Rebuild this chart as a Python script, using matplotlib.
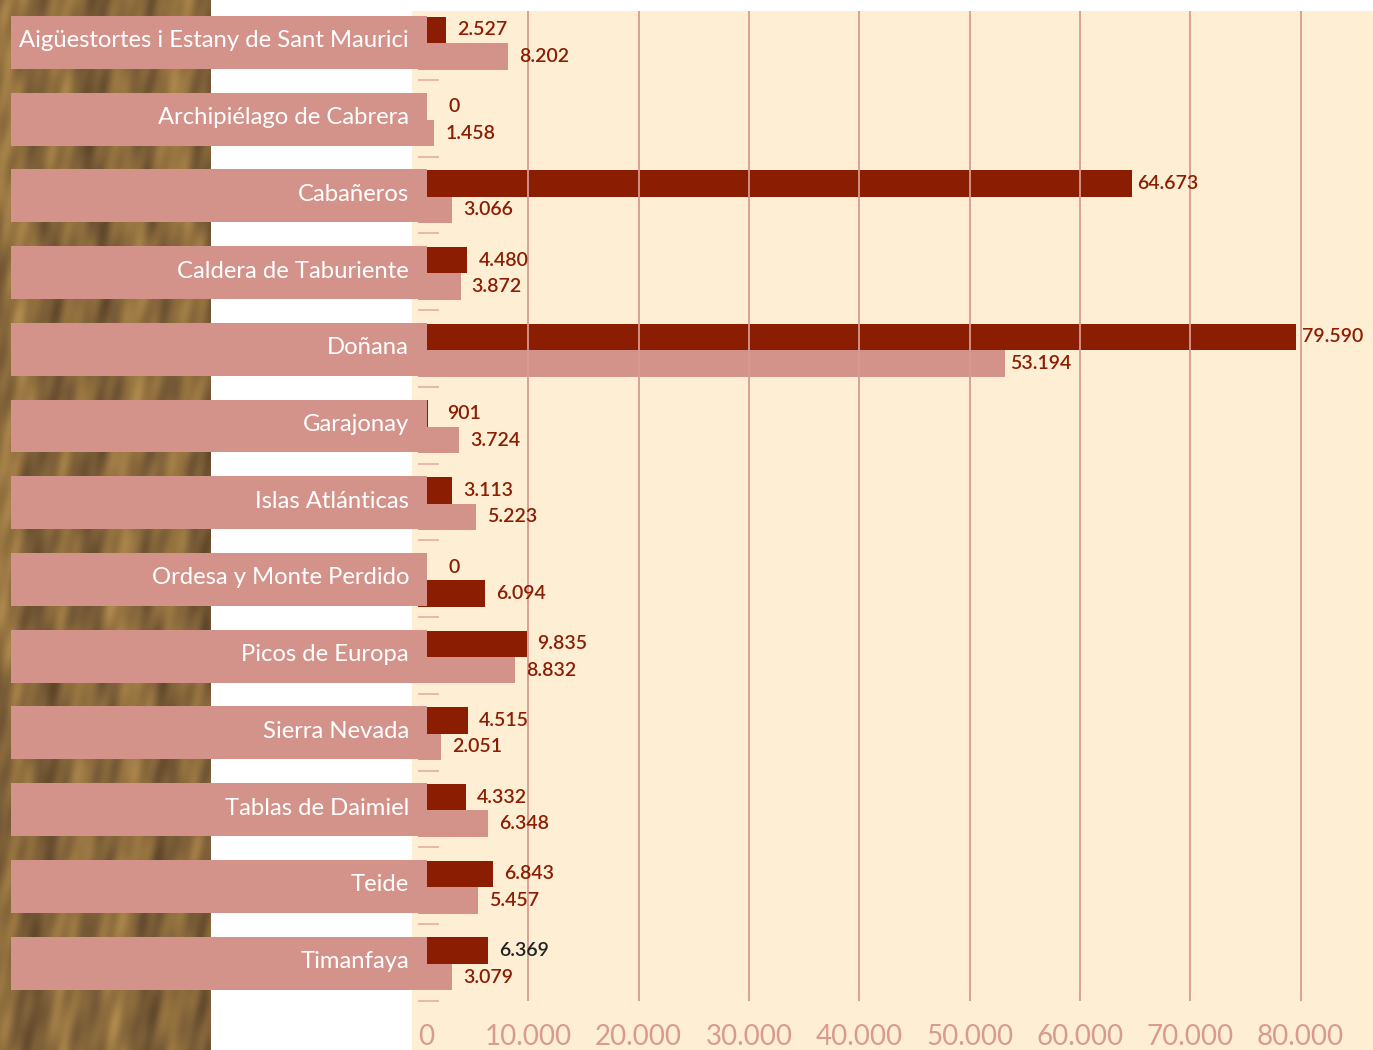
import numpy as np
import matplotlib
matplotlib.use("Agg")
import matplotlib.pyplot as plt
from matplotlib.patches import Rectangle
from matplotlib.colors import LinearSegmentedColormap
from matplotlib.transforms import blended_transform_factory

# --- data -------------------------------------------------------------
parks = [
    "Aigüestortes i Estany de Sant Maurici",
    "Archipiélago de Cabrera",
    "Cabañeros",
    "Caldera de Taburiente",
    "Doñana",
    "Garajonay",
    "Islas Atlánticas",
    "Ordesa y Monte Perdido",
    "Picos de Europa",
    "Sierra Nevada",
    "Tablas de Daimiel",
    "Teide",
    "Timanfaya",
]
series_a = [2527, 0, 64673, 4480, 79590, 901, 3113, 0, 9835, 4515, 4332, 6843, 6369]
series_b = [8202, 1458, 3066, 3872, 53194, 3724, 5223, 6094, 8832, 2051, 6348, 5457, 3079]
x_ticks = [0, 10000, 20000, 30000, 40000, 50000, 60000, 70000, 80000]

DARK = "#8B1D03"
PINK = "#D4938A"
CREAM = "#FEEFD4"
AXIS_PINK = "#D99A8F"

# per-bar colours for the second series (Ordesa's is drawn dark)
colors_b = [PINK] * len(parks)
colors_b[parks.index("Ordesa y Monte Perdido")] = DARK
# per-label colours for the first series
label_colors_a = [DARK] * len(parks)
label_colors_a[parks.index("Timanfaya")] = "#222222"


def fmt(v):
    return f"{v:,}".replace(",", ".")


W, H = 1373, 1050
fig = plt.figure(figsize=(W / 100, H / 100), dpi=100)
fig.patch.set_facecolor("white")

# wooden strip on the left
wood_ax = fig.add_axes([0, 0, 211 / W, 1], zorder=-2)
xx, yy = np.meshgrid(np.arange(211), np.arange(H))
grain = (0.5
         + 0.16 * np.sin(xx / 9.0 + 1.2 * np.sin(yy / 70.0) + 0.5 * np.sin(yy / 23.0))
         + 0.09 * np.sin(xx / 3.1 + yy / 37.0) * np.sin(yy / 17.0 + xx / 11.0)
         + 0.08 * np.sin(yy / 9.0 + xx / 5.0) * np.cos(xx / 13.0 - yy / 41.0)
         + 0.07 * np.sin(xx / 23.0 + yy / 260.0))
wood_cmap = LinearSegmentedColormap.from_list(
    "wood", ["#5F4629", "#7A5D38", "#94723F", "#AE894E"])
wood_ax.imshow(grain, cmap=wood_cmap, aspect="auto", interpolation="bilinear",
               extent=[0, 211, H, 0], vmin=0.15, vmax=0.85)
wood_ax.axis("off")

# cream panel behind the plot
cream_ax = fig.add_axes([412 / W, 0, 1 - 412 / W, (H - 11) / H], zorder=-1)
cream_ax.set_facecolor(CREAM)
cream_ax.set_xticks([])
cream_ax.set_yticks([])
for s in cream_ax.spines.values():
    s.set_visible(False)

x0_px, top_px, bot_px = 418, 11, 1000.7
ax = fig.add_axes([x0_px / W, (H - bot_px) / H, 1 - x0_px / W, (bot_px - top_px) / H])
ax.set_facecolor("none")

px_per_unit = 110.33 / 10000
ax.set_xlim(0, (W - x0_px) / px_per_unit)
band_px = (bot_px - 80.0) / 12
ax.set_ylim(len(parks) - 0.5, -0.5 + (top_px - (80.0 - band_px)) / band_px)

y = np.arange(len(parks)) + 0.02
h = 0.345
ax.barh(y - h / 2, series_a, height=h, color=DARK, zorder=2)
ax.barh(y + h / 2, series_b, height=h, color=colors_b, zorder=2)

# value labels
label_font = dict(family="Lato", fontsize=14, fontweight="semibold")
for i in range(len(parks)):
    ax.annotate(fmt(series_a[i]), (series_a[i], y[i] - h / 2), xytext=(26, 0),
                textcoords="offset points", ha="center", va="center",
                color=label_colors_a[i], zorder=5, **label_font)
    ax.annotate(fmt(series_b[i]), (series_b[i], y[i] + h / 2), xytext=(26, 0),
                textcoords="offset points", ha="center", va="center",
                color=DARK, zorder=5, **label_font)

# vertical gridlines drawn over the bars
for t in x_ticks[1:]:
    ax.axvline(t, color=AXIS_PINK, lw=1.3, zorder=3)

# category separators as short inward ticks
ax.set_yticks(np.arange(len(parks)) + 0.5, minor=False)
ax.set_yticklabels([])
ax.tick_params(axis="y", direction="in", length=15, width=1.2, color="#E4AFA3")

ax.set_xticks(x_ticks)
ax.set_xticklabels([fmt(t) for t in x_ticks])
ax.tick_params(axis="x", length=0, pad=17, labelsize=20, labelcolor=AXIS_PINK)
for lbl in ax.get_xticklabels():
    lbl.set_fontfamily("Lato")
ax.get_xticklabels()[0].set_horizontalalignment("left")

for s in ax.spines.values():
    s.set_visible(False)

# label boxes with park names
blend = blended_transform_factory(fig.transFigure, ax.transData)
for i, name in enumerate(parks):
    ax.add_patch(Rectangle((11 / W, y[i] - h - 0.01), (427 - 11) / W, 2 * h,
                           transform=blend, facecolor=PINK, edgecolor="none",
                           clip_on=False, zorder=4))
    ax.text(409 / W, y[i] - 0.03, name, transform=blend, ha="right", va="center",
            color="white", fontsize=17.2, family="Lato", zorder=6, clip_on=False)

fig.savefig("out.png", dpi=100, facecolor=fig.get_facecolor())
